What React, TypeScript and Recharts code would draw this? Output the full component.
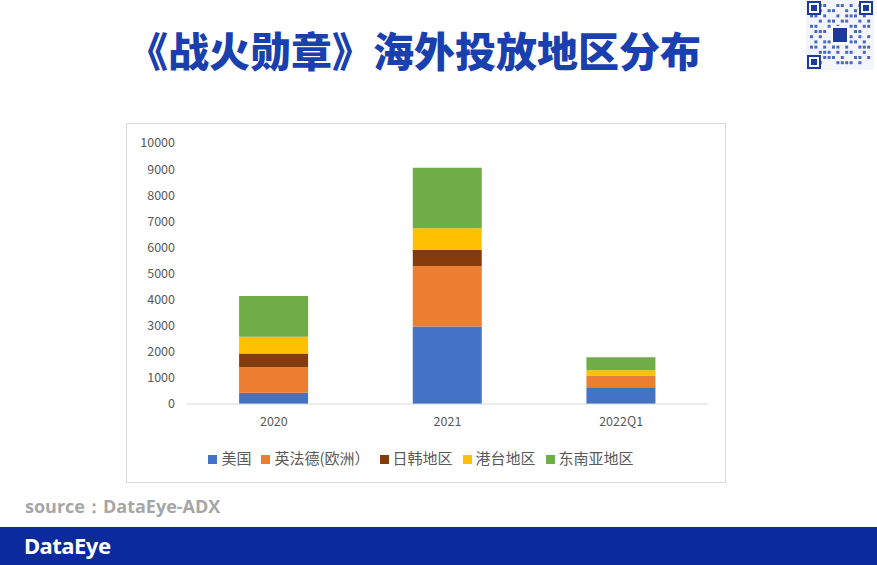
import { BarChart, Bar, XAxis, YAxis, Legend } from 'recharts'

// categories and stacked values
const categories = ['2020', '2021', '2022Q1']
const usa = [430, 2970, 640]
const europe = [975, 2320, 425]
const japanKorea = [530, 610, 20]
const hkTaiwan = [645, 835, 210]
const seAsia = [1560, 2320, 495]
const yTicks = [0, 1000, 2000, 3000, 4000, 5000, 6000, 7000, 8000, 9000, 10000]

const SERIES = [
  { key: 'usa', name: '美国', color: '#4472C4' },
  { key: 'europe', name: '英法德(欧洲）', color: '#ED7D31' },
  { key: 'japanKorea', name: '日韩地区', color: '#843C0C' },
  { key: 'hkTaiwan', name: '港台地区', color: '#FFC000' },
  { key: 'seAsia', name: '东南亚地区', color: '#70AD47' },
]

const data = categories.map((c, i) => ({
  name: c,
  usa: usa[i],
  europe: europe[i],
  japanKorea: japanKorea[i],
  hkTaiwan: hkTaiwan[i],
  seAsia: seAsia[i],
}))

const FONT = '"Noto Sans CJK SC", "Noto Sans", sans-serif'
const AXIS_STYLE = { fontSize: 12.5, fill: '#595959', fontFamily: FONT }

// decorative qr-like block in the corner
function QrMark() {
  const finder = (x: number, y: number) => (
    <g key={`${x}-${y}`}>
      <rect x={x} y={y} width={14} height={14} fill="#1a3a9c" />
      <rect x={x + 2} y={y + 2} width={10} height={10} fill="#fff" />
      <rect x={x + 4} y={y + 4} width={6} height={6} fill="#1a3a9c" />
    </g>
  )
  const dots: JSX.Element[] = []
  const rows = [
    '10110011010110', '01101100101001', '11010010111010', '00101101100101',
    '11001010011011', '01110101101100', '10100110110101', '01011001011010',
    '11010110100111', '00111010110010', '10011101001101', '01100011110100',
  ]
  rows.forEach((r, ri) =>
    r.split('').forEach((v, ci) => {
      if (v === '1') dots.push(<rect key={`d${ri}-${ci}`} x={4 + ci * 4.4} y={4 + ri * 5.2} width={3} height={3} fill="#4a68c0" />)
    }),
  )
  return (
    <svg width={68} height={70} style={{ position: 'absolute', left: 806, top: 0 }}>
      <rect width={68} height={70} fill="#f3f5fb" />
      {dots}
      {finder(1, 1)}
      {finder(53, 1)}
      {finder(1, 55)}
      <rect x={25} y={26} width={18} height={18} fill="#fff" />
      <rect x={27} y={28} width={14} height={14} fill="#1a3a9c" />
    </svg>
  )
}

export default function App() {
  return (
    <div style={{ position: 'absolute', left: 0, top: 0, width: 877, height: 565, overflow: 'hidden', background: '#fff', fontFamily: FONT }}>
      <div
        style={{
          position: 'absolute', left: 0, width: 828, top: 24, textAlign: 'center',
          fontSize: 41, fontWeight: 900, color: '#1a3fae', lineHeight: '50px',
        }}
      >
        《战火勋章》海外投放地区分布
      </div>
      <QrMark />

      <div style={{ position: 'absolute', left: 126, top: 123, width: 600, height: 360, border: '1px solid #d9d9d9', boxSizing: 'border-box' }}>
        <BarChart width={598} height={358} data={data} margin={{ top: 19, right: 17, left: 0, bottom: 0 }} barCategoryGap="30%">
          <XAxis
            dataKey="name"
            tick={AXIS_STYLE}
            tickLine={false}
            axisLine={{ stroke: '#d9d9d9' }}
            tickMargin={7}
            height={30}
          />
          <YAxis
            domain={[0, 10000]}
            ticks={yTicks}
            tick={AXIS_STYLE}
            tickLine={false}
            axisLine={false}
            width={60}
            tickMargin={6}
          />
          {SERIES.map((s) => (
            <Bar key={s.key} dataKey={s.key} name={s.name} stackId="a" fill={s.color} isAnimationActive={false} />
          ))}
          <Legend
            verticalAlign="bottom"
            iconType="square"
            iconSize={9}
            height={35}
            itemSorter={(item: any) => SERIES.findIndex((s) => s.name === item.value)}
            wrapperStyle={{ fontSize: 15, color: '#595959', paddingTop: 13, left: 0, width: 598 }}
            formatter={(v) => <span style={{ color: '#595959' }}>{v}</span>}
          />
        </BarChart>
      </div>

      <div style={{ position: 'absolute', left: 25, top: 494, fontSize: 18, fontWeight: 700, color: '#a6a6a6', fontFamily: '"Open Sans", sans-serif' }}>
        source：DataEye-ADX
      </div>

      <div style={{ position: 'absolute', left: 0, top: 527, width: 877, height: 38, background: '#0a2a9e' }}>
        <div style={{ position: 'absolute', left: 24, top: 3, fontSize: 22, fontWeight: 700, color: '#fff', fontFamily: '"Noto Sans", sans-serif', letterSpacing: -0.5 }}>
          DataEye
        </div>
      </div>
    </div>
  )
}
